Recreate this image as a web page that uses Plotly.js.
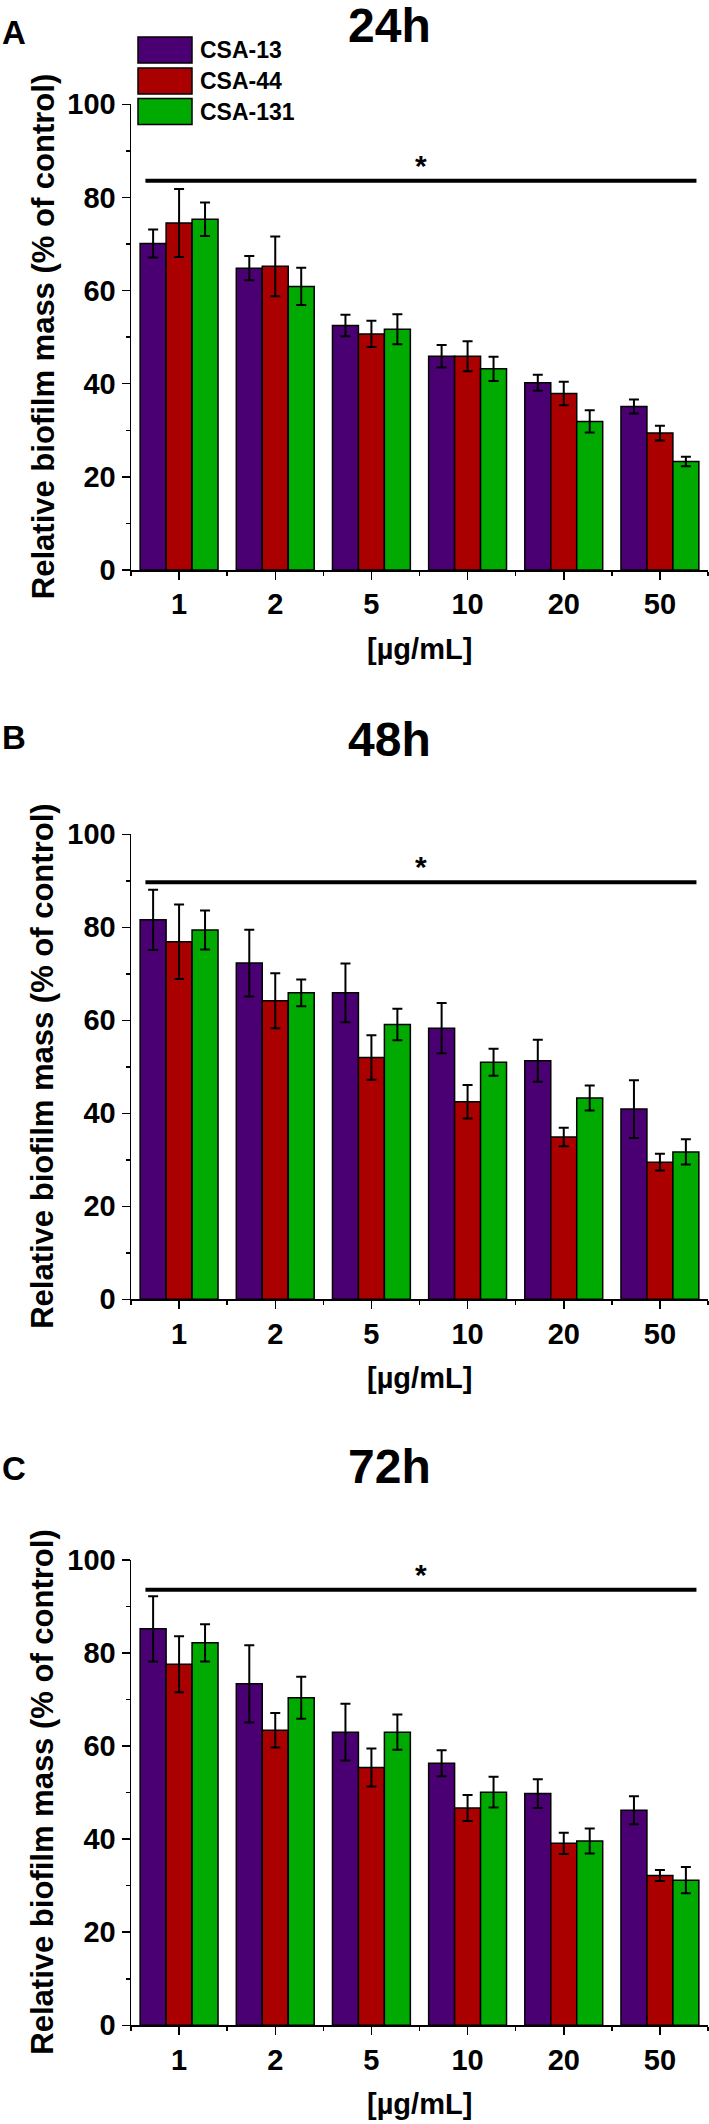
<!DOCTYPE html>
<html>
<head>
<meta charset="utf-8">
<script src="https://cdn.plot.ly/plotly-3.0.1.min.js"></script>
<style>
  html, body { margin: 0; padding: 0; background: #fff; }
  #chart { width: 709px; height: 2124px; }
</style>
</head>
<body>
<div id="chart"></div>
<script>
// ── Data (% of control) ─────────────────────────────────────────────────────
const doses = ["1", "2", "5", "10", "20", "50"];
const compounds = ["CSA-13", "CSA-44", "CSA-131"];
const timepoints = ["24h", "48h", "72h"];
const panelLetters = ["A", "B", "C"];

const csa13_24h = [70.1, 64.8, 52.5, 45.9, 40.2, 35.1];
const csa44_24h = [74.5, 65.2, 50.7, 45.9, 37.9, 29.4];
const csa131_24h = [75.3, 60.9, 51.7, 43.2, 31.9, 23.3];
const csa13_24h_err = [3.0, 2.6, 2.3, 2.4, 1.7, 1.5];
const csa44_24h_err = [7.3, 6.4, 2.8, 3.2, 2.5, 1.6];
const csa131_24h_err = [3.6, 4.0, 3.2, 2.6, 2.4, 1.0];

const csa13_48h = [81.6, 72.3, 65.9, 58.3, 51.3, 40.9];
const csa44_48h = [76.9, 64.2, 52.0, 42.5, 34.9, 29.5];
const csa131_48h = [79.4, 65.9, 59.1, 51.0, 43.3, 31.7];
const csa13_48h_err = [6.5, 7.2, 6.3, 5.4, 4.5, 6.2];
const csa44_48h_err = [8.0, 5.9, 4.8, 3.6, 2.0, 1.8];
const csa131_48h_err = [4.2, 2.9, 3.4, 2.9, 2.7, 2.7];

const csa13_72h = [85.2, 73.4, 63.0, 56.3, 49.8, 46.2];
const csa44_72h = [77.6, 63.4, 55.4, 46.7, 39.1, 32.2];
const csa131_72h = [82.2, 70.4, 63.0, 50.1, 39.6, 31.2];
const csa13_72h_err = [7.0, 8.3, 6.1, 2.8, 3.1, 3.0];
const csa44_72h_err = [6.0, 3.7, 4.1, 2.8, 2.3, 1.2];
const csa131_72h_err = [4.0, 4.5, 3.8, 3.3, 2.7, 2.8];

// level of the "*" significance bar in each panel
const sigLevel = [83.6, 89.7, 93.6];

// ── Style ────────────────────────────────────────────────────────────────────
const COLORS = ["#4a0072", "#aa0000", "#00aa00"];
const FONT = "Liberation Sans, Arial, Helvetica, sans-serif";
const W = 709, H = 2124;

// pixel → paper helpers (page is drawn at its native size)
const px = x => x / W;
const py = y => 1 - y / H;

// plot-area top/bottom (px) of the three panels
const PANEL_TOP = [104.3, 834.3, 1560];
const PANEL_BOT = [570, 1299.3, 2025.3];
const PLOT_LEFT = 131, PLOT_RIGHT = 708;
const TITLE_Y = [25.5, 739.5, 1466];
const LETTER_Y = [33, 738, 1468];

const values = [
  [csa13_24h, csa44_24h, csa131_24h],
  [csa13_48h, csa44_48h, csa131_48h],
  [csa13_72h, csa44_72h, csa131_72h],
];
const errors = [
  [csa13_24h_err, csa44_24h_err, csa131_24h_err],
  [csa13_48h_err, csa44_48h_err, csa131_48h_err],
  [csa13_72h_err, csa44_72h_err, csa131_72h_err],
];

const bold = (size, color) => ({ family: FONT, size, color: color || "#000", weight: "bold" });

// ── Build traces / axes per panel ────────────────────────────────────────────
const traces = [];
const layout = {
  width: W, height: H,
  margin: { l: 0, r: 0, t: 0, b: 0 },
  paper_bgcolor: "#fff", plot_bgcolor: "#fff",
  barmode: "group", bargap: 0.19, bargroupgap: 0,
  showlegend: false,
  annotations: [], shapes: [],
};

const xIdx = doses.map((_, k) => k);

timepoints.forEach((tp, p) => {
  const sfx = p === 0 ? "" : String(p + 1);
  const xa = "x" + sfx, ya = "y" + sfx;

  compounds.forEach((name, s) => {
    traces.push({
      type: "bar", name, x: xIdx, y: values[p][s],
      xaxis: xa, yaxis: ya,
      marker: { color: COLORS[s], line: { color: "#000", width: 1.5 } },
      error_y: { type: "data", array: errors[p][s], visible: true,
                 color: "#000", thickness: 2, width: 5 },
      hoverinfo: "skip",
    });
  });

  layout["xaxis" + sfx] = {
    domain: [px(PLOT_LEFT), px(PLOT_RIGHT)], anchor: ya,
    range: [-0.5, 5.5], tickmode: "array", tickvals: xIdx, ticktext: doses,
    showline: true, linecolor: "#000", linewidth: 1.5, mirror: false,
    ticks: "outside", ticklen: 8, tickwidth: 1.5, tickcolor: "#000",
    minor: { tickmode: "linear", tick0: -0.5, dtick: 1, ticks: "outside",
             ticklen: 4, tickwidth: 1.5, tickcolor: "#000" },
    showgrid: false, zeroline: false, fixedrange: true,
    tickfont: bold(29),
  };
  layout["yaxis" + sfx] = {
    domain: [py(PANEL_BOT[p]), py(PANEL_TOP[p])], anchor: xa,
    range: [0, 100], tickmode: "linear", tick0: 0, dtick: 20,
    showline: true, linecolor: "#000", linewidth: 1.5,
    ticks: "outside", ticklen: 8, tickwidth: 1.5, tickcolor: "#000",
    minor: { tickmode: "linear", tick0: 0, dtick: 10, ticks: "outside",
             ticklen: 4, tickwidth: 1.5, tickcolor: "#000" },
    showgrid: false, zeroline: false, fixedrange: true,
    tickfont: bold(29),
  };

  const A = layout.annotations, S = layout.shapes;
  const mid = (PANEL_TOP[p] + PANEL_BOT[p]) / 2;

  // panel letter + time title
  A.push({ text: panelLetters[p], xref: "paper", yref: "paper", x: px(0), y: py(LETTER_Y[p]),
           xanchor: "left", yanchor: "middle", showarrow: false, font: bold(33) });
  A.push({ text: tp, xref: "paper", yref: "paper", x: px(389), y: py(TITLE_Y[p]),
           xanchor: "center", yanchor: "middle", showarrow: false, font: bold(48) });

  // axis titles
  A.push({ text: "Relative biofilm mass (% of control)", textangle: -90,
           xref: "paper", yref: "paper", x: px(43), y: py(mid),
           xanchor: "center", yanchor: "middle", showarrow: false, font: bold(31) });
  A.push({ text: "[µg/mL]", xref: "paper", yref: "paper",
           x: px((PLOT_LEFT + PLOT_RIGHT) / 2), y: py(PANEL_BOT[p] + 79),
           xanchor: "center", yanchor: "middle", showarrow: false, font: bold(29) });

  // significance bar + star
  S.push({ type: "line", xref: xa, yref: ya, x0: -0.35, x1: 5.38,
           y0: sigLevel[p], y1: sigLevel[p], line: { color: "#000", width: 4 } });
  A.push({ text: "*", xref: "paper", yref: ya, x: px(421), y: sigLevel[p],
           xanchor: "center", yanchor: "bottom", yshift: -3, showarrow: false, font: bold(30) });
});

// ── Legend (top-left of panel A), drawn as boxes + labels ────────────────────
const LEG_Y = [50, 81, 111.5];
compounds.forEach((name, s) => {
  const yc = LEG_Y[s];
  layout.shapes.push({ type: "rect", xref: "paper", yref: "paper",
    x0: px(138), x1: px(192), y0: py(yc - 13), y1: py(yc + 13),
    fillcolor: COLORS[s], line: { color: "#000", width: 1.5 } });
  layout.annotations.push({ text: name, xref: "paper", yref: "paper",
    x: px(198), y: py(yc), xanchor: "left", yanchor: "middle",
    showarrow: false, font: bold(23) });
});

Plotly.newPlot("chart", traces, layout, { displayModeBar: false, staticPlot: true });
</script>
</body>
</html>
